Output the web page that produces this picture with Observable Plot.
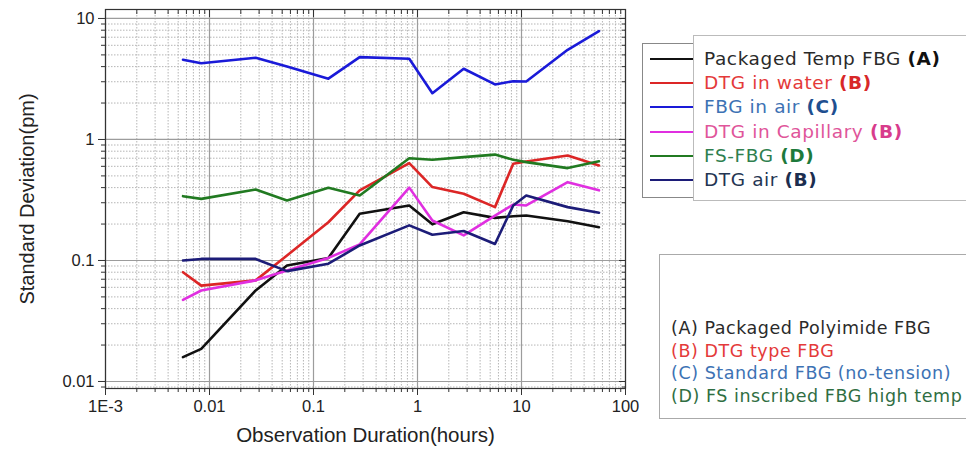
<!DOCTYPE html>
<html><head><meta charset="utf-8">
<script src="https://cdn.jsdelivr.net/npm/d3@7"></script>
<script src="https://cdn.jsdelivr.net/npm/@observablehq/plot@0.6"></script>
<style>
body{margin:0;background:#fff;}
#wrap{position:relative;width:966px;height:455px;overflow:hidden;}
.box{position:absolute;box-sizing:border-box;}
.leg{position:absolute;font-family:"DejaVu Sans",sans-serif;white-space:nowrap;}
.row{position:absolute;left:0;line-height:22px;height:22px;}
.sw{position:absolute;height:0;border-top:2.6px solid;}
b{font-weight:bold;}
</style></head><body><div id="wrap"></div>
<script>
// Observation duration (hours)
const durations = [0.00556, 0.00833, 0.0278, 0.0556, 0.139, 0.278, 0.833, 1.39, 2.78, 5.56, 8.33, 11.1, 27.8, 55.6];
// Standard deviation (pm) per series
const packagedTempFBG = [0.0159, 0.0186, 0.0565, 0.091, 0.105, 0.243, 0.285, 0.199, 0.25, 0.225, 0.232, 0.235, 0.211, 0.188];
const dtgInWater      = [0.080, 0.062, 0.0685, 0.11, 0.207, 0.38, 0.637, 0.404, 0.356, 0.276, 0.63, 0.657, 0.738, 0.61];
const fbgInAir        = [4.56, 4.27, 4.73, 4.0, 3.18, 4.79, 4.64, 2.41, 3.84, 2.85, 3.03, 3.01, 5.51, 7.85];
const dtgInCapillary  = [0.0473, 0.0565, 0.0685, 0.0826, 0.105, 0.136, 0.40, 0.214, 0.161, 0.235, 0.29, 0.285, 0.444, 0.38];
const fsFBG           = [0.34, 0.323, 0.386, 0.313, 0.399, 0.344, 0.70, 0.68, 0.715, 0.75, 0.68, 0.65, 0.58, 0.66];
const dtgAir          = [0.1, 0.103, 0.103, 0.0817, 0.094, 0.133, 0.195, 0.163, 0.175, 0.137, 0.285, 0.344, 0.276, 0.248];

const seriesNames  = ["Packaged Temp FBG", "DTG in water", "FBG in air", "DTG in Capillary", "FS-FBG", "DTG air"];
const seriesTags   = ["(A)", "(B)", "(C)", "(B)", "(D)", "(B)"];
const seriesValues = [packagedTempFBG, dtgInWater, fbgInAir, dtgInCapillary, fsFBG, dtgAir];
const seriesColors = ["#111111", "#dc2626", "#1a1ad8", "#e02fe0", "#217a21", "#1c1c78"];
const legendText   = ["#2a2a2a", "#e43a3a", "#3d72b4", "#e0559a", "#2f7f4f", "#243552"];
const legendTag    = ["#111111", "#d82828", "#1f4f90", "#d83c8c", "#1d7a3c", "#1c2e4f"];

const notes      = ["(A) Packaged Polyimide FBG", "(B) DTG type FBG", "(C) Standard FBG (no-tension)", "(D) FS inscribed FBG high temp"];
const noteColors = ["#2a2a2a", "#e43a3a", "#3d72b4", "#2f6e42"];

const xMajor = [0.001, 0.01, 0.1, 1, 10, 100];
const xTickLabels = ["1E-3", "0.01", "0.1", "1", "10", "100"];
const yMajor = [0.01, 0.1, 1, 10];
const yTickLabels = ["0.01", "0.1", "1", "10"];

const xMinor = [];
for (const d of [0.001, 0.01, 0.1, 1, 10]) for (let k = 2; k <= 9; k++) xMinor.push(d * k);
const yMinor = [0.009];
for (const d of [0.01, 0.1, 1]) for (let k = 2; k <= 9; k++) yMinor.push(d * k);

const rows = [];
seriesNames.forEach((s, j) => durations.forEach((t, i) => rows.push({series: s, t, v: seriesValues[j][i]})));

const axisColor = "#333";
const chart = Plot.plot({
  width: 966, height: 455,
  marginLeft: 105, marginRight: 341, marginTop: 9, marginBottom: 67,
  style: {fontFamily: "'Liberation Sans', Arial, sans-serif", fontSize: "16px", color: "#222", background: "transparent"},
  x: {type: "log", domain: [0.001, 100]},
  y: {type: "log", domain: [0.00875, 11.86]},
  color: {domain: seriesNames, range: seriesColors},
  marks: [
    Plot.ruleX(xMinor, {stroke: "#b5b5b5", strokeDasharray: "1.5,1.5"}),
    Plot.ruleY(yMinor, {stroke: "#b5b5b5", strokeDasharray: "1.5,1.5"}),
    Plot.ruleX(xMajor, {stroke: "#9c9c9c", strokeWidth: 1.2}),
    Plot.ruleY(yMajor, {stroke: "#9c9c9c", strokeWidth: 1.2}),
    Plot.line(rows, {x: "t", y: "v", z: "series", stroke: "series", strokeWidth: 2.6, strokeLinejoin: "round"}),
    Plot.frame({stroke: axisColor, strokeWidth: 1.2}),
    Plot.axisX(xMajor, {anchor: "bottom", tickSize: 7, tickPadding: 5, stroke: axisColor, fill: "#222", fontSize: 16.5, tickFormat: d => xTickLabels[xMajor.indexOf(d)], label: null}),
    Plot.axisX(xMinor, {anchor: "bottom", tickSize: 4, stroke: axisColor, fill: "none", label: null}),
    Plot.axisX(xMajor, {anchor: "top", tickSize: -7, stroke: axisColor, fill: "none", label: null}),
    Plot.axisX(xMinor, {anchor: "top", tickSize: -4, stroke: axisColor, fill: "none", label: null}),
    Plot.axisY(yMajor, {anchor: "left", tickSize: 7, tickPadding: 4, stroke: axisColor, fill: "#222", fontSize: 16.5, tickFormat: d => yTickLabels[yMajor.indexOf(d)], label: null}),
    Plot.axisY(yMinor, {anchor: "left", tickSize: 4, stroke: axisColor, fill: "none", label: null}),
    Plot.axisY(yMajor, {anchor: "right", tickSize: -7, stroke: axisColor, fill: "none", label: null}),
    Plot.axisY(yMinor, {anchor: "right", tickSize: -4, stroke: axisColor, fill: "none", label: null}),
    Plot.text(["Observation Duration(hours)"], {frameAnchor: "bottom", dy: 53, fontSize: 20.5, fill: "#222"}),
    Plot.text(["Standard Deviation(pm)"], {frameAnchor: "left", dx: -78, rotate: -90, textAnchor: "middle", fontSize: 20, fill: "#222"})
  ]
});

const wrap = document.getElementById("wrap");
wrap.appendChild(chart);

function addBox(l, t, w, h, c) {
  const b = document.createElement("div");
  b.className = "box";
  Object.assign(b.style, {left: l + "px", top: t + "px", width: w + "px", height: h + "px", border: "1px solid " + c});
  wrap.appendChild(b);
}
addBox(642, 43, 52, 155, "#888");
addBox(693, 35, 290, 166, "#bbb");
addBox(659, 254, 320, 165, "#aaa");

// series legend
const leg = document.createElement("div");
leg.className = "leg";
Object.assign(leg.style, {left: "0px", top: "0px", width: "966px", height: "455px", fontSize: "18.5px", letterSpacing: "0.6px"});
seriesNames.forEach((s, i) => {
  const cy = 59 + i * 24.2;
  const sw = document.createElement("div");
  sw.className = "sw";
  Object.assign(sw.style, {left: "650px", width: "43px", top: (cy - 1) + "px", borderTopColor: seriesColors[i]});
  leg.appendChild(sw);
  const r = document.createElement("div");
  r.className = "row";
  Object.assign(r.style, {left: "704px", top: (cy - 11) + "px", color: legendText[i]});
  r.innerHTML = s + " <b style='color:" + legendTag[i] + "'>" + seriesTags[i] + "</b>";
  leg.appendChild(r);
});
wrap.appendChild(leg);

// notes legend
const leg2 = document.createElement("div");
leg2.className = "leg";
Object.assign(leg2.style, {left: "0px", top: "0px", width: "966px", height: "455px", fontSize: "17.5px", letterSpacing: "0.55px"});
notes.forEach((n, i) => {
  const cy = 328 + i * 22.7;
  const r = document.createElement("div");
  r.className = "row";
  Object.assign(r.style, {left: "671px", top: (cy - 11) + "px", color: noteColors[i]});
  r.textContent = n;
  leg2.appendChild(r);
});
wrap.appendChild(leg2);
</script>
</body></html>
